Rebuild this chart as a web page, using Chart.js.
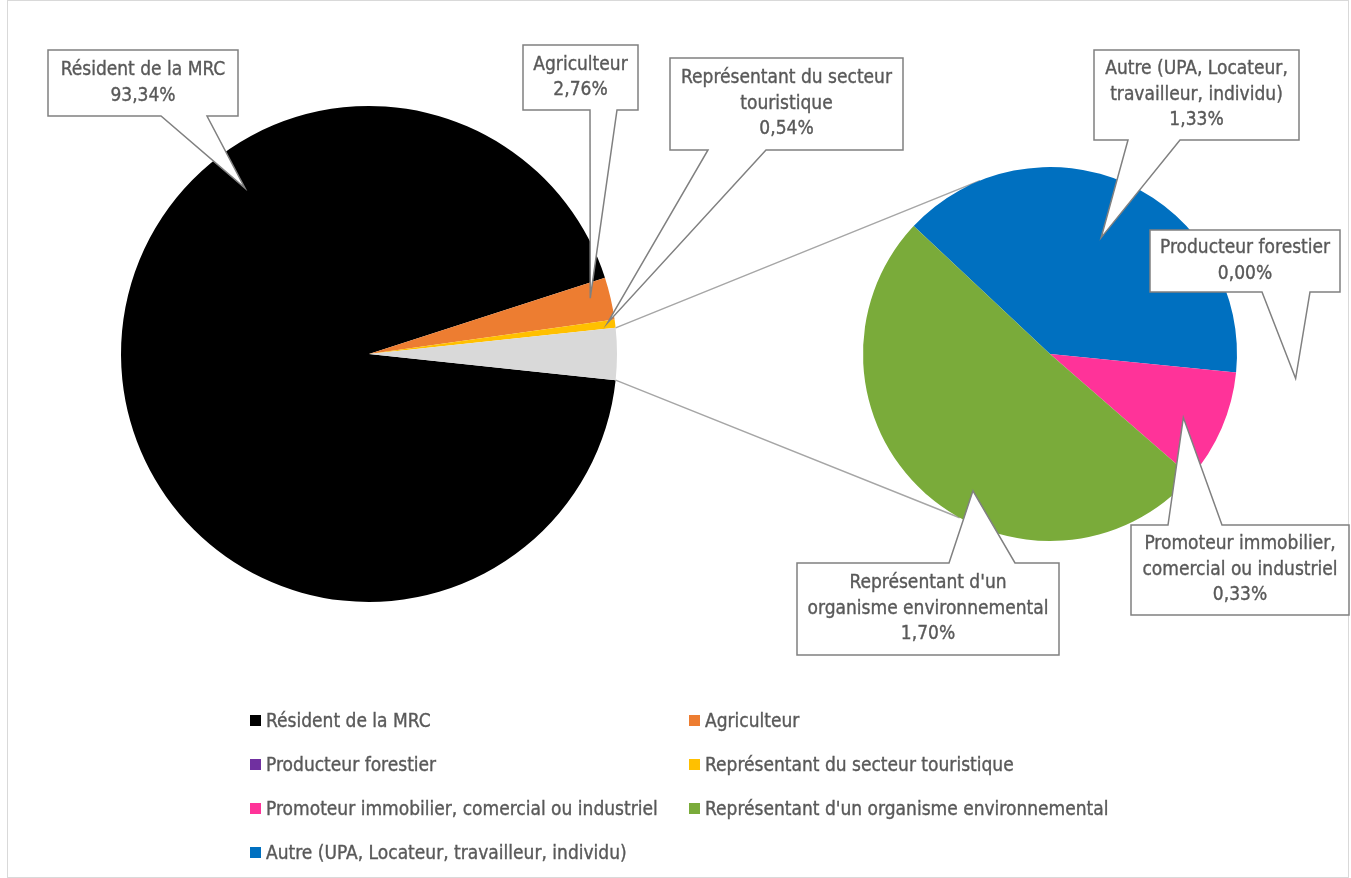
<!DOCTYPE html>
<html>
<head>
<meta charset="utf-8">
<script src="https://cdn.jsdelivr.net/npm/chart.js@4.4.1/dist/chart.umd.min.js"></script>
<style>
  html, body { margin:0; padding:0; background:#fff; width:1351px; height:878px; overflow:hidden; }
  #frame { position:absolute; left:7px; top:0; width:1342px; height:878px; border:1px solid #d9d9d9; box-sizing:border-box; }
  canvas { position:absolute; left:0; top:0; }
  .sw { position:absolute; width:11px; height:11px; }
  .lt { position:absolute; color:#595959; white-space:nowrap; font-size:19px; line-height:22px; -webkit-text-stroke:0.35px #595959; }
</style>
</head>
<body>
<div id="frame"></div>
<div id="c1wrap" style="position:absolute;left:0;top:0;width:1351px;height:878px;"><canvas id="c1"></canvas></div>
<div id="c2wrap" style="position:absolute;left:0;top:0;width:1351px;height:878px;"><canvas id="c2"></canvas></div>
<div id="legend"></div>
<script>
// ---------------- DATA ----------------
const mainCategories = ['Résident de la MRC', 'Agriculteur', 'Représentant du secteur touristique'];
const mainValues = [93.34, 2.76, 0.54];
const subCategories = ['Autre (UPA, Locateur, travailleur, individu)', 'Producteur forestier',
  'Promoteur immobilier, comercial ou industriel', "Représentant d'un organisme environnemental"];
const subValues = [1.33, 0.00, 0.33, 1.70];
const legendOrder = ['Résident de la MRC', 'Agriculteur', 'Producteur forestier',
  'Représentant du secteur touristique', 'Promoteur immobilier, comercial ou industriel',
  "Représentant d'un organisme environnemental", 'Autre (UPA, Locateur, travailleur, individu)'];

// ---------------- STYLE ----------------
const FONT = '"Liberation Sans Narrow", "DejaVu Sans Condensed", "Roboto", sans-serif';
const TEXT_COLOR = '#595959';
const colors = {
  'Résident de la MRC': '#000000',
  'Agriculteur': '#ED7D31',
  'Producteur forestier': '#7030A0',
  'Représentant du secteur touristique': '#FFC000',
  'Promoteur immobilier, comercial ou industriel': '#FF3399',
  "Représentant d'un organisme environnemental": '#7AAB3A',
  'Autre (UPA, Locateur, travailleur, individu)': '#0070C0'
};
const OTHER_COLOR = '#D9D9D9';
const labelLines = {
  'Résident de la MRC': ['Résident de la MRC'],
  'Agriculteur': ['Agriculteur'],
  'Représentant du secteur touristique': ['Représentant du secteur', 'touristique'],
  'Autre (UPA, Locateur, travailleur, individu)': ['Autre (UPA, Locateur,', 'travailleur, individu)'],
  'Producteur forestier': ['Producteur forestier'],
  'Promoteur immobilier, comercial ou industriel': ['Promoteur immobilier,', 'comercial ou industriel'],
  "Représentant d'un organisme environnemental": ["Représentant d'un", 'organisme environnemental']
};
// callout boxes (x, y, w, h, pointer base b1..b2 on side) and tip anchor inside the slice
const mainCallouts = [
  { x:48,  y:50, w:190, h:66, b1:161, b2:207, side:'bottom', frac:0.676, rf:0.835 },
  { x:523, y:45, w:115, h:65, b1:590, b2:617, side:'bottom', frac:0.38,  rf:0.92 },
  { x:670, y:58, w:233, h:92, b1:708, b2:766, side:'bottom', frac:0.30,  rf:0.97 }
];
const subCallouts = [
  { x:1094, y:50,  w:205, h:90, b1:1128, b2:1180, side:'bottom', frac:0.495, rf:0.68 },
  { x:1150, y:230, w:190, h:62, b1:1262, b2:1310, side:'bottom', frac:0.5,   rf:1.32 },
  { x:1131, y:525, w:218, h:90, b1:1168, b2:1222, side:'top',    frac:0.56,  rf:0.79 },
  { x:797,  y:563, w:262, h:92, b1:949,  b2:1015, side:'top',    frac:0.43,  rf:0.84 }
];

const otherTotal = subValues.reduce((a, b) => a + b, 0);
const fmt = v => v.toFixed(2).replace('.', ',') + '%';

function tipFor(arc, c) {
  const a = arc.startAngle + c.frac * (arc.endAngle - arc.startAngle);
  const r = arc.outerRadius * c.rf;
  return { x: arc.x + r * Math.cos(a), y: arc.y + r * Math.sin(a) };
}
function drawCallout(ctx, c, tip, lines) {
  const { x, y, w, h, b1, b2, side } = c;
  ctx.save();
  ctx.beginPath();
  if (side === 'bottom') {
    ctx.moveTo(x, y); ctx.lineTo(x + w, y); ctx.lineTo(x + w, y + h);
    ctx.lineTo(b2, y + h); ctx.lineTo(tip.x, tip.y); ctx.lineTo(b1, y + h); ctx.lineTo(x, y + h);
  } else {
    ctx.moveTo(x, y); ctx.lineTo(b1, y); ctx.lineTo(tip.x, tip.y); ctx.lineTo(b2, y);
    ctx.lineTo(x + w, y); ctx.lineTo(x + w, y + h); ctx.lineTo(x, y + h);
  }
  ctx.closePath();
  ctx.fillStyle = '#ffffff';
  ctx.fill();
  ctx.lineWidth = 1.5;
  ctx.strokeStyle = '#808080';
  ctx.lineJoin = 'miter';
  ctx.stroke();
  ctx.fillStyle = TEXT_COLOR;
  ctx.strokeStyle = TEXT_COLOR;
  ctx.lineWidth = 0.35;
  ctx.font = '19px ' + FONT;
  ctx.textAlign = 'center';
  ctx.textBaseline = 'middle';
  const lh = 25.5;
  const cy = y + h / 2 - (lines.length - 1) * lh / 2;
  lines.forEach((t, i) => {
    ctx.fillText(t, x + w / 2, cy + i * lh);
    ctx.strokeText(t, x + w / 2, cy + i * lh);
  });
  ctx.restore();
}

let chart1;
const mainLabelsPlugin = {
  id: 'mainLabels',
  afterDatasetsDraw(chart) {
    const meta = chart.getDatasetMeta(0);
    mainCallouts.forEach((c, i) => {
      const cat = mainCategories[i];
      drawCallout(chart.ctx, c, tipFor(meta.data[i], c), labelLines[cat].concat([fmt(mainValues[i])]));
    });
  }
};
const subPlugin = {
  id: 'subExtras',
  beforeDatasetsDraw(chart) {
    const ctx = chart.ctx;
    const grey = chart1.getDatasetMeta(0).data[mainValues.length];
    const sub = chart.getDatasetMeta(0).data[0];
    const C = { x: sub.x, y: sub.y }, R = sub.outerRadius;
    const P1 = { x: grey.x + grey.outerRadius * Math.cos(grey.startAngle), y: grey.y + grey.outerRadius * Math.sin(grey.startAngle) };
    const P2 = { x: grey.x + grey.outerRadius * Math.cos(grey.endAngle), y: grey.y + grey.outerRadius * Math.sin(grey.endAngle) };
    const dir = Math.atan2(P1.y - C.y, P1.x - C.x);
    const d = Math.hypot(P1.x - C.x, P1.y - C.y);
    const al = Math.acos(R / d);
    const T1 = { x: C.x + R * Math.cos(dir + al), y: C.y + R * Math.sin(dir + al) };
    const T2 = { x: C.x + R * Math.cos(dir - al), y: C.y + R * Math.sin(dir - al) };
    ctx.save();
    ctx.strokeStyle = '#A6A6A6';
    ctx.lineWidth = 1.5;
    ctx.beginPath();
    ctx.moveTo(P1.x, P1.y); ctx.lineTo(T1.x, T1.y);
    ctx.moveTo(P2.x, P2.y); ctx.lineTo(T2.x, T2.y);
    ctx.stroke();
    ctx.restore();
  },
  afterDatasetsDraw(chart) {
    const meta = chart.getDatasetMeta(0);
    subCallouts.forEach((c, i) => {
      const cat = subCategories[i];
      drawCallout(chart.ctx, c, tipFor(meta.data[i], c), labelLines[cat].concat([fmt(subValues[i])]));
    });
  }
};

const common = {
  responsive: true,
  maintainAspectRatio: false,
  animation: false,
  events: [],
  plugins: { legend: { display: false }, tooltip: { enabled: false } }
};

chart1 = new Chart(document.getElementById('c1'), {
  type: 'pie',
  data: {
    labels: mainCategories.concat(['Autres']),
    datasets: [{
      data: mainValues.concat([otherTotal]),
      backgroundColor: mainCategories.map(c => colors[c]).concat([OTHER_COLOR]),
      borderWidth: 0
    }]
  },
  options: Object.assign({}, common, {
    rotation: 90 + otherTotal * 360 / 100 / 2,
    layout: { padding: { left: 121, right: 734, top: 106, bottom: 276 } }
  }),
  plugins: [mainLabelsPlugin]
});

new Chart(document.getElementById('c2'), {
  type: 'pie',
  data: {
    labels: subCategories,
    datasets: [{
      data: subValues,
      backgroundColor: subCategories.map(c => colors[c]),
      borderWidth: 0
    }]
  },
  options: Object.assign({}, common, {
    rotation: 313.2,
    layout: { padding: { left: 863, right: 114, top: 167, bottom: 337 } }
  }),
  plugins: [subPlugin]
});

// ---------------- LEGEND (HTML) ----------------
const legend = document.getElementById('legend');
const colX = [250, 689];
const rowY0 = 720, rowDY = 44;
legendOrder.forEach((cat, i) => {
  const col = i % 2, row = Math.floor(i / 2);
  const cy = rowY0 + row * rowDY;
  const sw = document.createElement('div');
  sw.className = 'sw';
  sw.style.left = colX[col] + 'px';
  sw.style.top = (cy - 5) + 'px';
  sw.style.background = colors[cat];
  legend.appendChild(sw);
  const t = document.createElement('div');
  t.className = 'lt';
  t.style.fontFamily = FONT;
  t.style.left = (colX[col] + 16) + 'px';
  t.style.top = (cy - 11) + 'px';
  t.textContent = cat;
  legend.appendChild(t);
});
</script>
</body>
</html>
